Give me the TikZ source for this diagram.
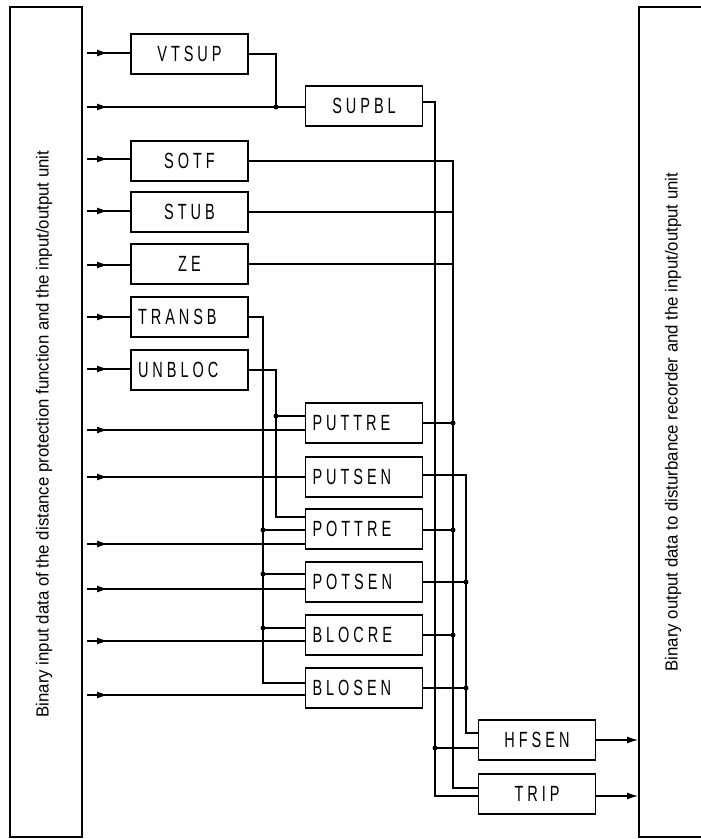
\documentclass[tikz,border=0pt]{standalone}
\usepackage{fontspec}
\setmainfont{Liberation Sans}
\newfontfamily\blockfont[FakeStretch=0.66,LetterSpace=18]{Liberation Sans}
\newfontfamily\sidefont[FakeStretch=0.96]{Liberation Sans}
\usepackage{tikz}
\usetikzlibrary{positioning,arrows.meta,decorations.markings}

\tikzset{
  wire/.style={line width=1.2pt},
  blk/.style={draw, line width=1.2pt, minimum width=117pt, minimum height=40pt,
    inner sep=0pt, font=\blockfont\fontsize{22}{24}\selectfont},
  blkleft/.style={blk, text width=103pt, align=left},
  inwire/.style={wire, postaction=decorate, decoration={markings,
    mark=at position 21pt with {\arrow{Latex[length=11pt,width=7pt]}}}},
  outwire/.style={wire, -{Latex[length=11pt,width=7pt]}, shorten >=1pt},
  joint/.style={circle, fill, inner sep=0pt, minimum size=5pt},
  sidetext/.style={rotate=90, font=\sidefont\fontsize{17.5}{19}\selectfont},
}

\begin{document}
\begin{tikzpicture}[x=1pt, y=-1pt, wire]
  \useasboundingbox (0,0) rectangle (701,839);
  % Input and output units
  \draw (10,7) rectangle (82,837);
  \draw (639,7) rectangle (720,837);
  \node[sidetext] (inunit) at (44,434)
    {Binary input data of the distance protection function and the input/output unit};
  \node[sidetext] (outunit) at (673,422)
    {Binary output data to disturbance recorder and the input/output unit};

  % Left column
  \foreach \name/\txt/\y in {vtsup/VTSUP/54, sotf/SOTF/161, stub/STUB/212, ze/ZE/264}
    \node[blk] (\name) at (189.5,\y) {\txt};
  \node[blkleft] (transb) at (189.5,317) {TRANSB};
  \node[blkleft] (unbloc) at (189.5,370) {UNBLOC};

  % Middle column
  \node[blk] (supbl) at (364,106) {SUPBL};
  \foreach \name/\txt/\y in {puttre/PUTTRE/423, putsen/PUTSEN/477, pottre/POTTRE/529,
      potsen/POTSEN/582, blocre/BLOCRE/635, blosen/BLOSEN/688}
    \node[blkleft] (\name) at (364,\y) {\txt};

  % Right column
  \node[blk] (hfsen) at (537,740) {HFSEN};
  \node[blk] (trip) at (537,794) {TRIP};

  % Bus columns
  \coordinate (busA) at (435,0);
  \coordinate (busB) at (453,0);
  \coordinate (busC) at (466,0);
  \coordinate (busD) at (263,0);
  \coordinate (busE) at (276,0);

  % Inputs from the input unit
  \foreach \y/\dst in {53/vtsup, 107/supbl, 159/sotf, 211/stub, 265/ze, 317/transb,
      369/unbloc, 430/puttre, 477/putsen, 544/pottre, 589/potsen, 641/blocre, 695/blosen}
    \draw[inwire] (87,\y) coordinate (in-\dst) -- (in-\dst -| \dst.west);

  % VTSUP joins SUPBL
  \draw (vtsup.east) -| (busE |- in-supbl) node[joint] {};

  % Trip bus
  \coordinate (tripa) at ([yshift=-2pt]trip.west);
  \coordinate (tripb) at ([yshift=6pt]trip.west);
  \coordinate (hfa) at ([yshift=-8pt]hfsen.west);
  \coordinate (hfc) at ([yshift=7pt]hfsen.west);
  \draw ([yshift=4pt]supbl.east) -| (busA |- tripa) -- (tripa);
  \draw (busA |- hfa) node[joint] {} -- (hfa);
  \draw (sotf.east) -| (busB |- tripb) -- (tripb);
  \draw (stub.east) -- (stub.east -| busB);
  \draw (ze.east) -- (ze.east -| busB);
  \foreach \src/\dy in {puttre/0, pottre/-1, blocre/0} {
    \coordinate (tap) at ([yshift=\dy pt]\src.east);
    \draw (tap) -- (tap -| busB) node[joint] {};
  }

  % HFSEN bus
  \draw ([yshift=2pt]putsen.east) -| (busC |- hfc) -- (hfc);
  \foreach \src in {potsen, blosen}
    \draw (\src.east) -- (\src.east -| busC) node[joint] {};

  % TRANSB and UNBLOC buses
  \coordinate (bs1) at ([yshift=5pt]blosen.west);
  \draw (transb.east) -| (busD |- bs1) -- (bs1);
  \foreach \dst/\dy in {pottre/-1, potsen/8, blocre/7} {
    \coordinate (tap) at ([yshift=\dy pt]\dst.west);
    \draw (busD |- tap) node[joint] {} -- (tap);
  }
  \coordinate (pt1) at ([yshift=12pt]pottre.west);
  \draw (unbloc.east) -| (busE |- pt1) -- (pt1);
  \coordinate (pu1) at ([yshift=7pt]puttre.west);
  \draw (busE |- pu1) node[joint] {} -- (pu1);

  % Outputs to the output unit
  \draw[outwire] (hfsen.east) -- (hfsen.east -| 639,0);
  \draw[outwire] ([yshift=-2pt]trip.east) -- ([yshift=-2pt]trip.east -| 639,0);
\end{tikzpicture}
\end{document}
